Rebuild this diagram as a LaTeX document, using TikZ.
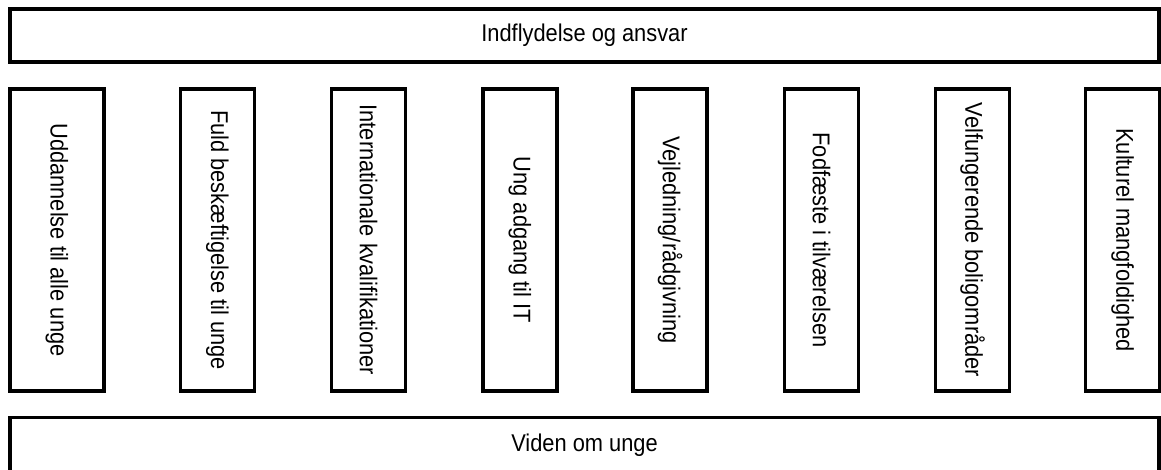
\documentclass[tikz,border=0pt]{standalone}
\usepackage{fontspec}
\setmainfont[FakeStretch=0.9]{Liberation Sans}
\begin{document}
\begin{tikzpicture}[
    band/.style={rectangle, draw, minimum width=22.98cm, minimum height=1.06cm, inner sep=0pt, outer sep=0pt},
    pillar/.style={rectangle, draw, minimum width=1.48cm, minimum height=6.04cm, inner sep=0pt, outer sep=0pt},
    line width=2pt,
    font=\fontsize{13.8}{16}\selectfont
  ]
  \useasboundingbox (0,0) rectangle (23.22,9.38);
  \clip (0,0) rectangle (23.22,9.38);
  \node[band] (top) at (11.69,8.67) {Indflydelse og ansvar};
  \node[pillar, minimum width=1.88cm] (P1) at (1.14,4.58) {\rotatebox{-90}{Uddannelse til alle unge}};
  \node[pillar] (P2) at (4.35,4.58) {\rotatebox{-90}{Fuld beskæftigelse til unge}};
  \node[pillar] (P3) at (7.37,4.58) {\rotatebox{-90}{Internationale kvalifikationer}};
  \node[pillar] (P4) at (10.40,4.58) {\rotatebox{-90}{Ung adgang til IT}};
  \node[pillar] (P5) at (13.40,4.58) {\rotatebox{-90}{Vejledning/rådgivning}};
  \node[pillar] (P6) at (16.43,4.58) {\rotatebox{-90}{Fodfæste i tilværelsen}};
  \node[pillar] (P7) at (19.45,4.58) {\rotatebox{-90}{Velfungerende boligområder}};
  \node[pillar] (P8) at (22.45,4.58) {\rotatebox{-90}{Kulturel mangfoldighed}};
  \node[band, minimum height=1.12cm] (bottom) at (11.69,0.47) {Viden om unge};
\end{tikzpicture}
\end{document}
